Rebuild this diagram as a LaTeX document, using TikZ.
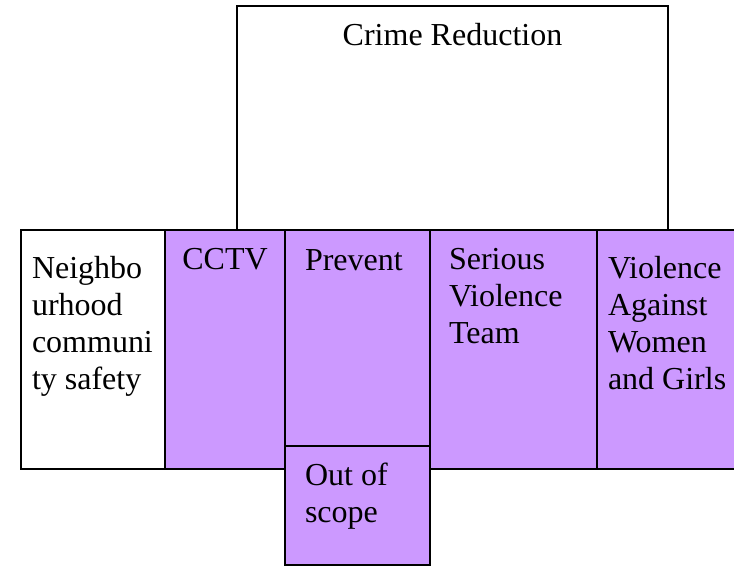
\documentclass[tikz,border=0pt]{standalone}
\usepackage{fontspec}
\setmainfont{Liberation Serif}
\definecolor{lilac}{HTML}{CC99FF}
\begin{document}
\begin{tikzpicture}[x=1pt,y=-1pt,
  box/.style={draw=black, line width=1.3pt, rectangle, inner sep=0pt, outer sep=0pt, anchor=north west},
  lbl/.style={anchor=base west, inner sep=0pt, outer sep=0pt, font=\fontsize{32}{37}\selectfont, align=left},
]
\useasboundingbox (0,0) rectangle (734,566);
\node[box, minimum width=431pt, minimum height=224pt] (crime) at (237,6) {};
\node[lbl, anchor=base] (crimet) at (452.5,45) {Crime Reduction};
\node[box, fill=white, minimum width=144pt, minimum height=239pt] (nbh) at (21,230) {};
\node[box, fill=lilac, minimum width=120pt, minimum height=239pt] (cctv) at (165,230) {};
\node[box, fill=lilac, minimum width=145pt, minimum height=216pt] (prev) at (285,230) {};
\node[box, fill=lilac, minimum width=145pt, minimum height=119pt] (oos) at (285,446) {};
\node[box, fill=lilac, minimum width=167pt, minimum height=239pt] (svt) at (430,230) {};
\node[box, fill=lilac, minimum width=150pt, minimum height=239pt] (vawg) at (597,230) {};
% base anchor of a multi-line node is the baseline of its last line
\node[lbl] (nbht) at (32,389) {Neighbo\\urhood\\communi\\ty safety};
\node[lbl, anchor=base] (cctvt) at (225,269) {CCTV};
\node[lbl] (prevt) at (305,270) {Prevent};
\node[lbl] (oost) at (305,522) {Out of\\scope};
\node[lbl] (svtt) at (449,343) {Serious\\Violence\\Team};
\node[lbl] (vawgt) at (608,389) {Violence\\Against\\Women\\and Girls};
\end{tikzpicture}
\end{document}
